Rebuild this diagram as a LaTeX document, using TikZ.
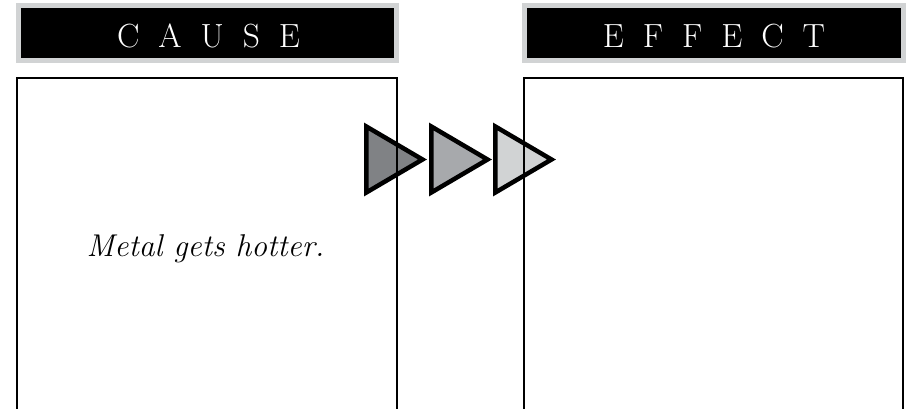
\documentclass[tikz,border=0pt]{standalone}
\usepackage{fontspec}
\definecolor{hdrgray}{HTML}{D1D3D4}
\definecolor{tridark}{HTML}{808285}
\definecolor{trimid}{HTML}{A7A9AC}
\definecolor{trilight}{HTML}{D1D3D4}
\newcommand{\gp}{\hspace{19pt}}
\tikzset{
  header/.style={draw=hdrgray, line width=5pt, fill=black, text=white,
    minimum height=55pt, inner sep=0pt},
  panel/.style={draw=black, line width=2pt, inner sep=0pt},
  arrowtri/.style={draw=black, line width=4.5pt, line join=miter},
  hdrtext/.style={text=white, font=\fontsize{33.5}{38}\selectfont, anchor=base, inner sep=0pt},
  bodytext/.style={font=\fontsize{31.5}{36}\selectfont\itshape, anchor=base, inner sep=0pt}
}
\begin{document}
\begin{tikzpicture}[x=1pt, y=-1pt]
\useasboundingbox (0,0) rectangle (907,409);
\clip (0,0) rectangle (907,409);
% headers
\node[header, minimum width=378pt] (causehead) at (207.5,33) {};
\node[header, minimum width=379.5pt] (effecthead) at (714.2,33) {};
\node[hdrtext] (causetxt) at (208.5,48) {C\gp A\gp U\gp S\gp E};
\node[hdrtext] (effecttxt) at (714,48) {E\gp F\gp F\gp E\gp C\gp T};
% triangles
\path[arrowtri, fill=tridark] (366.3,126.5) coordinate (t1a) -- (422.5,159.5) coordinate (t1tip) -- (366.3,192.5) -- cycle;
\path[arrowtri, fill=trimid] (431.3,126.5) coordinate (t2a) -- (487.5,159.5) coordinate (t2tip) -- (431.3,192.5) -- cycle;
\path[arrowtri, fill=trilight] (495.3,126.5) coordinate (t3a) -- (551.5,159.5) coordinate (t3tip) -- (495.3,192.5) -- cycle;
% panels
\node[panel, minimum width=380pt, minimum height=400pt, anchor=north] (causebox) at (207,77) {};
\node[panel, minimum width=379pt, minimum height=400pt, anchor=north] (effectbox) at (713.5,77) {};
\node[bodytext] (causetext) at (205.5,256) {Metal gets hotter.};
\end{tikzpicture}
\end{document}
